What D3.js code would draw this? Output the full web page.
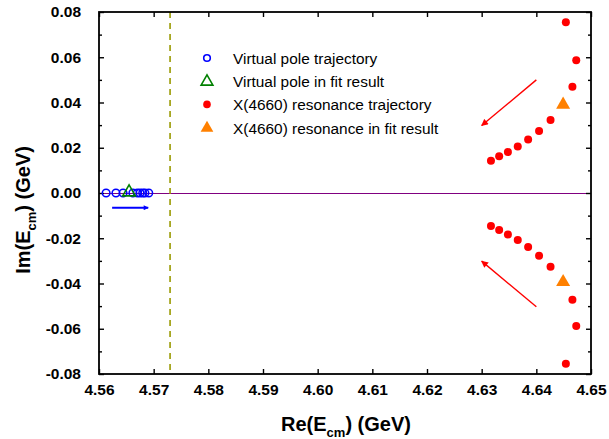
<!DOCTYPE html>
<html lang="en">
<head>
    <meta charset="utf-8">
    <title>Pole trajectories</title>
    <script src="https://cdn.jsdelivr.net/npm/d3@7/dist/d3.min.js"></script>
    <style>
        body { margin: 0; background: #fff; }
        svg text { font-family: Arial, "Liberation Sans", sans-serif; }
        .tick text { font-weight: bold; font-size: 15.5px; fill: #000; }
        .tick line { stroke: #000; stroke-width: 1.4; }
        .domain { display: none; }
    </style>
</head>
<body>
<div id="chart"></div>
<script>
    // virtual pole trajectory (on the real axis)
    var virtRe = [4.5613, 4.5631, 4.5644, 4.5662, 4.5670, 4.5675, 4.5680, 4.5684, 4.5691];
    var virtIm = [0, 0, 0, 0, 0, 0, 0, 0, 0];
    var virtFitRe = [4.5655];
    var virtFitIm = [0.0008];

    // X(4660) resonance trajectory, upper and lower half plane
    var resRe = [4.6454, 4.6473, 4.6466, 4.6426, 4.6405, 4.6385, 4.6366, 4.6348, 4.6332, 4.6317];
    var resImUp = [0.0755, 0.0587, 0.0470, 0.0323, 0.0274, 0.0236, 0.0205, 0.0181, 0.0162, 0.0143];
    var resImDown = [-0.0755, -0.0588, -0.0472, -0.0326, -0.0277, -0.0239, -0.0208, -0.0183, -0.0164, -0.0146];
    var resFitRe = [4.6449, 4.6449];
    var resFitIm = [0.0395, -0.0389];

    var threshold = 4.5730;

    // arrows: [x1, y1, x2, y2, colour]
    var arrows = [
        [4.6400, 0.0500, 4.6300, 0.0298, "#ff0000"],
        [4.6400, -0.0503, 4.6300, -0.0301, "#ff0000"],
        [4.5624, -0.0065, 4.5690, -0.0065, "#0000ff"]
    ];

    var xTicks = [4.56, 4.57, 4.58, 4.59, 4.60, 4.61, 4.62, 4.63, 4.64, 4.65];
    var yTicks = [-0.08, -0.06, -0.04, -0.02, 0.00, 0.02, 0.04, 0.06, 0.08];
    var yMinor = [-0.07, -0.05, -0.03, -0.01, 0.01, 0.03, 0.05, 0.07];

    var legendItems = [
        "Virtual pole trajectory",
        "Virtual pole in fit result",
        "X(4660) resonance trajectory",
        "X(4660) resonance in fit result"
    ];

    var W = 609, H = 439;
    var pLeft = 99, pRight = 591, pTop = 12, pBottom = 374;

    var svg = d3.select("#chart").append("svg")
        .attr("width", W)
        .attr("height", H);

    var defs = svg.append("defs");
    ["#ff0000", "#0000ff"].forEach(function(c, i) {
        defs.append("marker")
            .attr("id", "head" + i)
            .attr("viewBox", "0 0 10 10")
            .attr("refX", 9).attr("refY", 5)
            .attr("markerWidth", i == 0 ? 9 : 7)
            .attr("markerHeight", i == 0 ? 7 : 5)
            .attr("markerUnits", "userSpaceOnUse")
            .attr("orient", "auto")
            .append("path")
            .attr("d", "M0,0 L10,5 L0,10 z")
            .attr("fill", c);
    });

    var x = d3.scaleLinear().domain([4.56, 4.65]).range([pLeft, pRight]);
    var y = d3.scaleLinear().domain([-0.08, 0.08]).range([pBottom, pTop]);

    // zero line
    svg.append("line")
        .attr("x1", x(4.56)).attr("x2", x(4.65))
        .attr("y1", y(0) + 0.5).attr("y2", y(0) + 0.5)
        .attr("stroke", "#800080").attr("stroke-width", 1)
        .attr("shape-rendering", "crispEdges");

    // threshold line
    svg.append("line")
        .attr("x1", x(threshold)).attr("x2", x(threshold))
        .attr("y1", y(0.08)).attr("y2", y(-0.08))
        .attr("stroke", "#9a9a00").attr("stroke-width", 1.6)
        .attr("stroke-dasharray", "6,5");

    // axes, ticks pointing inward
    svg.append("g")
        .attr("transform", "translate(0," + pBottom + ")")
        .call(d3.axisBottom(x).tickValues(xTicks).tickSize(-5).tickPadding(10)
            .tickFormat(d3.format(".2f")));
    svg.append("g")
        .attr("transform", "translate(0," + pTop + ")")
        .call(d3.axisTop(x).tickValues(xTicks).tickSize(-5).tickFormat(""));
    svg.append("g")
        .attr("transform", "translate(" + pLeft + ",0)")
        .call(d3.axisLeft(y).tickValues(yTicks).tickSize(-5).tickPadding(18)
            .tickFormat(d3.format(".2f")));
    svg.append("g")
        .attr("transform", "translate(" + pLeft + ",0)")
        .call(d3.axisLeft(y).tickValues(yMinor).tickSize(-3).tickFormat(""));
    svg.append("g")
        .attr("transform", "translate(" + pRight + ",0)")
        .call(d3.axisRight(y).tickValues(yTicks).tickSize(-5).tickFormat(""));
    svg.append("g")
        .attr("transform", "translate(" + pRight + ",0)")
        .call(d3.axisRight(y).tickValues(yMinor).tickSize(-3).tickFormat(""));

    // plain hyphen for negatives, like the original
    svg.selectAll(".tick text").text(function() { return this.textContent.replace("\u2212", "-"); });

    // frame
    svg.append("rect")
        .attr("x", pLeft).attr("y", pTop)
        .attr("width", pRight - pLeft).attr("height", pBottom - pTop)
        .attr("fill", "none").attr("stroke", "#000").attr("stroke-width", 1.8);

    // arrows
    svg.selectAll(".arrow")
        .data(arrows)
        .enter().append("line")
        .attr("x1", function(d) { return x(d[0]); })
        .attr("y1", function(d) { return y(d[1]); })
        .attr("x2", function(d) { return x(d[2]); })
        .attr("y2", function(d) { return y(d[3]); })
        .attr("stroke", function(d) { return d[4]; })
        .attr("stroke-width", function(d) { return d[4] == "#0000ff" ? 2 : 1.4; })
        .attr("marker-end", function(d) { return d[4] == "#0000ff" ? "url(#head1)" : "url(#head0)"; });

    var tri = d3.symbol().type(d3.symbolTriangle);

    // virtual pole trajectory
    svg.append("g").selectAll("circle")
        .data(virtRe)
        .enter().append("circle")
        .attr("cx", function(d) { return x(d); })
        .attr("cy", function(d, i) { return y(virtIm[i]); })
        .attr("r", 3.8)
        .attr("fill", "none")
        .attr("stroke", "#0000ff")
        .attr("stroke-width", 1.5);

    // virtual pole fit
    svg.append("g").selectAll("path")
        .data(virtFitRe)
        .enter().append("path")
        .attr("d", tri.size(70))
        .attr("transform", function(d, i) { return "translate(" + x(d) + "," + (y(virtFitIm[i]) + 1) + ")"; })
        .attr("fill", "none")
        .attr("stroke", "#008000")
        .attr("stroke-width", 1.6);

    // resonance trajectory
    var resPts = [];
    resRe.forEach(function(d, i) {
        resPts.push([d, resImUp[i]]);
        resPts.push([d, resImDown[i]]);
    });
    svg.append("g").selectAll("circle")
        .data(resPts)
        .enter().append("circle")
        .attr("cx", function(d) { return x(d[0]); })
        .attr("cy", function(d) { return y(d[1]); })
        .attr("r", 4)
        .attr("fill", "#ff0000");

    // resonance fit
    svg.append("g").selectAll("path")
        .data(resFitRe)
        .enter().append("path")
        .attr("d", tri.size(85))
        .attr("transform", function(d, i) { return "translate(" + x(d) + "," + (y(resFitIm[i]) + 1) + ")"; })
        .attr("fill", "#ff8000");

    // legend
    var lg = svg.append("g").attr("transform", "translate(207,58)");
    var rowH = 23.2;
    lg.append("circle").attr("cx", 0).attr("cy", 0).attr("r", 3.3)
        .attr("fill", "none").attr("stroke", "#0000ff").attr("stroke-width", 1.6);
    lg.append("path").attr("d", tri.size(60))
        .attr("transform", "translate(0," + (rowH + 0.5) + ")")
        .attr("fill", "none").attr("stroke", "#008000").attr("stroke-width", 1.6);
    lg.append("circle").attr("cx", 0).attr("cy", rowH * 2).attr("r", 3.8)
        .attr("fill", "#ff0000");
    lg.append("path").attr("d", tri.size(70))
        .attr("transform", "translate(0," + (rowH * 3 + 0.5) + ")")
        .attr("fill", "#ff8000");
    lg.selectAll("text")
        .data(legendItems)
        .enter().append("text")
        .attr("x", 26)
        .attr("y", function(d, i) { return i * rowH + 6; })
        .style("font-size", "15.4px")
        .text(function(d) { return d; });

    // axis titles
    var xt = svg.append("text")
        .attr("x", 346).attr("y", 431)
        .attr("text-anchor", "middle")
        .style("font-size", "20px").style("font-weight", "bold");
    xt.append("tspan").text("Re(E");
    xt.append("tspan").attr("dy", 6).style("font-size", "13px").text("cm");
    xt.append("tspan").attr("dy", -6).text(") (GeV)");

    var yt = svg.append("text")
        .attr("transform", "translate(30,210) rotate(-90)")
        .attr("text-anchor", "middle")
        .style("font-size", "20px").style("font-weight", "bold");
    yt.append("tspan").text("Im(E");
    yt.append("tspan").attr("dy", 6).style("font-size", "13px").text("cm");
    yt.append("tspan").attr("dy", -6).text(") (GeV)");
</script>
</body>
</html>
